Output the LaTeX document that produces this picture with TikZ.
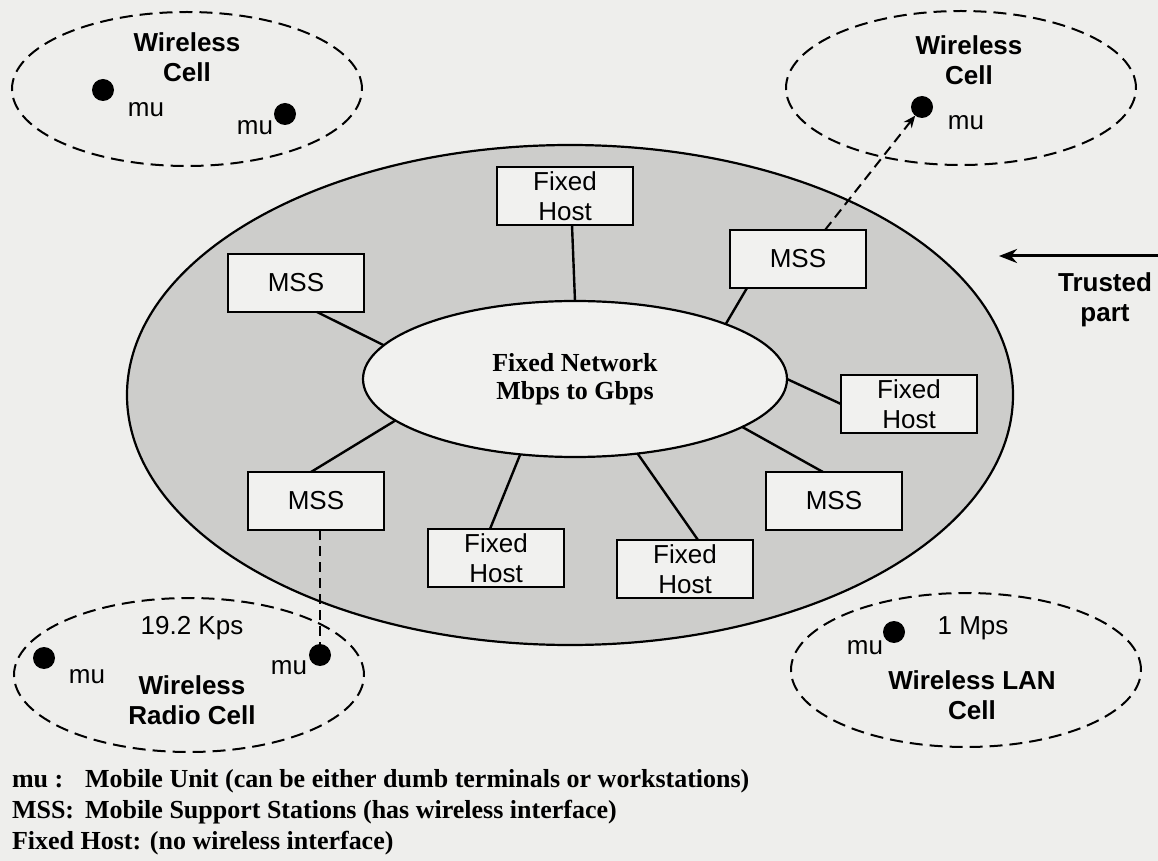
\documentclass[tikz,border=0pt]{standalone}
\usepackage{fontspec}
\setmainfont{Liberation Serif}
\setsansfont{Liberation Sans}
\usetikzlibrary{arrows.meta,calc,shapes.geometric}
\definecolor{bgc}{HTML}{EEEEEC}
\definecolor{ringc}{HTML}{CDCDCB}
\definecolor{boxc}{HTML}{F1F1EF}
\begin{document}
\begin{tikzpicture}[x=0.5pt,y=-0.5pt,
  every node/.style={inner sep=0pt, outer sep=0pt},
  hostbox/.style={draw, line width=1pt, fill=boxc, minimum width=68pt, minimum height=29pt, align=center, font=\sffamily\fontsize{13}{15}\selectfont},
  cellring/.style={draw, dash pattern=on 6.5pt off 3.5pt, line width=1pt, ellipse, minimum width=175pt, minimum height=77pt},
  mudot/.style={circle, fill=black, minimum size=11pt},
  celltext/.style={align=center, font=\sffamily\bfseries\fontsize{13}{15}\selectfont},
  mutext/.style={font=\sffamily\fontsize{13}{15}\selectfont},
  legend/.style={anchor=base west, font=\bfseries\fontsize{13}{15}\selectfont},
  link/.style={line width=1.2pt},
  wlink/.style={line width=1pt, dash pattern=on 5pt off 3pt},
]
\fill[bgc] (0,0) rectangle (1158,861);
\useasboundingbox (0,0) rectangle (1158,861);

% trusted part ring and fixed network
\node[ellipse, draw, line width=1.1pt, fill=ringc, minimum width=443pt, minimum height=250pt] (ring) at (570,395) {};
\node[ellipse, draw, line width=1.1pt, fill=boxc, minimum width=212pt, minimum height=78pt,
      align=center, font=\bfseries\fontsize{13}{14}\selectfont] (net) at (575,379) {Fixed Network\\Mbps to Gbps};

% hosts and stations
\node[hostbox] (fht) at (565,196) {Fixed\\Host};
\node[hostbox] (msl) at (296,283) {MSS};
\node[hostbox] (msr) at (798,259) {MSS};
\node[hostbox] (fhr) at (909,404) {Fixed\\Host};
\node[hostbox] (msbr) at (834,501) {MSS};
\node[hostbox] (fhbr) at (685,569) {Fixed\\Host};
\node[hostbox] (fhbc) at (496,558) {Fixed\\Host};
\node[hostbox] (msbl) at (316,501) {MSS};

\draw[link] ($(fht.south)+(7,0)$) -- (net.north);
\draw[link] ($(msl.south)+(21,0)$) -- (net.170);
\draw[link] ($(msr.south)+(-51,0)$) -- (net.20);
\draw[link] (fhr.west) -- (net.east);
\draw[link] ($(msbr.north)+(-11,0)$) -- (net.-16);
\draw[link] ($(fhbr.north)+(13,0)$) -- (net.-50);
\draw[link] ($(fhbc.north)+(-6,0)$) -- (net.234);
\draw[link] ($(msbl.north)+(-5,0)$) -- (net.193);

% top-left cell
\node[cellring] (cellTL) at (187,89) {};
\node[celltext] (tTL) at (187,57) {Wireless\\Cell};
\node[mudot] (dTL1) at (103,90) {};
\node[mutext] (mTL1) at (146,110) {mu};
\node[mudot] (dTL2) at (285,114) {};
\node[mutext] (mTL2) at (255,128) {mu};

% top-right cell
\node[cellring] (cellTR) at (961,88) {};
\node[celltext] (tTR) at (969,60) {Wireless\\Cell};
\node[mudot] (dTR) at (922,107) {};
\node[mutext] (mTR) at (966,123) {mu};
\draw[wlink, -{Stealth[length=6pt,width=5pt]}] ($(msr.north)+(27,0)$) -- (dTR);

% bottom-left cell
\node[cellring] (cellBL) at (189,675) {};
\node[mutext] (rBL) at (192,628) {19.2 Kps};
\node[mudot] (dBL1) at (44,658) {};
\node[mutext] (mBL1) at (87,677) {mu};
\node[mudot] (dBL2) at (320,655) {};
\node[mutext] (mBL2) at (289,668) {mu};
\node[celltext] (tBL) at (192,700) {Wireless\\Radio Cell};
\draw[wlink] ($(msbl.south)+(4,0)$) -- (dBL2);

% bottom-right cell
\node[cellring] (cellBR) at (966,670) {};
\node[mudot] (dBR) at (894,632) {};
\node[mutext] (mBR) at (865,648) {mu};
\node[mutext] (rBR) at (973,628) {1 Mps};
\node[celltext] (tBR) at (972,695) {Wireless LAN\\Cell};

% trusted part
\coordinate (trA) at (1158,256);
\coordinate (trB) at (999,256);
\draw[line width=1.5pt, -{Stealth[length=9pt,width=7pt]}] (trA) -- (trB);
\node[celltext] (trusted) at (1105,300) {Trusted\\part};

% legend
\node[legend] (l1a) at (12,787) {mu :};
\node[legend] (l1b) at (85,787) {Mobile Unit (can be either dumb terminals or workstations)};
\node[legend] (l2a) at (12,818) {MSS:};
\node[legend] (l2b) at (85,818) {Mobile Support Stations (has wireless interface)};
\node[legend] (l3a) at (12,849) {Fixed Host: (no wireless interface)};
\end{tikzpicture}
\end{document}
